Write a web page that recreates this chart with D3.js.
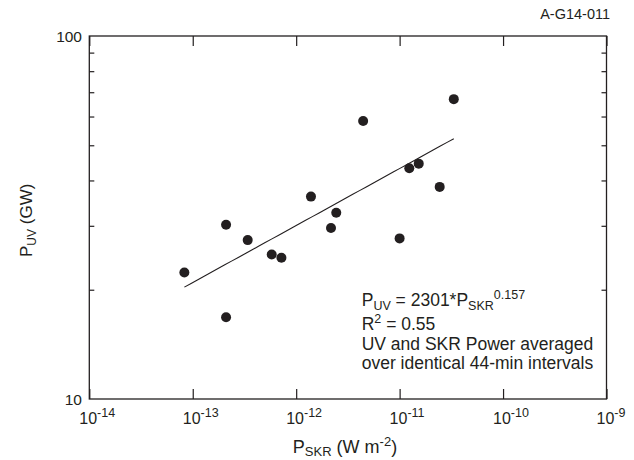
<!DOCTYPE html>
<html>
<head>
<meta charset="utf-8">
<script src="https://cdn.jsdelivr.net/npm/d3@7"></script>
<style>
  body { margin: 0; background: #fff; }
  text { font-family: "Liberation Sans", Arial, sans-serif; fill: #231f20; }
</style>
</head>
<body>
<svg id="chart"></svg>
<script>
// SKR power (W m^-2) and UV power (GW), 44-min averages
const skrPower = [8.3e-14, 2.1e-13, 2.1e-13, 3.4e-13, 5.8e-13, 7.2e-13, 1.39e-12, 2.17e-12,
  2.44e-12, 4.44e-12, 1.0e-11, 1.24e-11, 1.53e-11, 2.44e-11, 3.34e-11];
const uvPower = [22.3, 30.2, 16.8, 27.4, 25.0, 24.5, 36.1, 29.6,
  32.6, 58.3, 27.7, 43.2, 44.5, 38.4, 67.0];

const fitCoef = 2301;
const fitExp = 0.157;
const fitRange = [8.3e-14, 3.34e-11];

const xTickExps = [-14, -13, -12, -11, -10, -9];
const yMinorTicks = [20, 30, 40, 50, 60, 70, 80, 90];
const yLabelTicks = [10, 100];

const width = 634;
const height = 460;
const margin = { top: 36, right: 27.5, bottom: 61, left: 89.3 };
const ink = "#231f20";

let svg = d3.select("#chart").attr("width", width).attr("height", height);

let x = d3.scaleLog().domain([1e-14, 1e-9]).range([margin.left, width - margin.right]);
let y = d3.scaleLog().domain([10, 100]).range([height - margin.bottom, margin.top]);

let xTicks = xTickExps.map((e) => Math.pow(10, e));

// inward ticks on all four sides
let tickAxes = [
  [d3.axisBottom(x).tickValues(xTicks).tickSize(-10), height - margin.bottom, "x"],
  [d3.axisTop(x).tickValues(xTicks).tickSize(-10), margin.top, "x"],
  [d3.axisLeft(y).tickValues(yMinorTicks).tickSize(-5), margin.left, "y"],
  [d3.axisRight(y).tickValues(yMinorTicks).tickSize(-5), width - margin.right, "y"]
];
tickAxes.forEach(([axis, pos, dir]) => {
  let g = svg.append("g")
    .attr("transform", dir === "x" ? "translate(0," + pos + ")" : "translate(" + pos + ",0)")
    .call(axis.tickFormat(""));
  g.select(".domain").remove();
  g.selectAll("line").attr("stroke", ink).attr("stroke-width", 1.2);
});

// frame
svg.append("rect")
  .attr("x", margin.left)
  .attr("y", margin.top)
  .attr("width", width - margin.left - margin.right)
  .attr("height", height - margin.top - margin.bottom)
  .attr("fill", "none")
  .attr("stroke", ink)
  .attr("stroke-width", 1.3);

// x tick labels 10^n
let xLab = svg.append("g").selectAll("text")
  .data(xTickExps)
  .enter()
  .append("text")
  .attr("x", (e) => x(Math.pow(10, e)) - 10)
  .attr("y", 423.7)
  .attr("font-size", 16);
xLab.append("tspan").text("10");
xLab.append("tspan").attr("dy", -6.5).attr("font-size", 12.5).text((e) => "-" + Math.abs(e));

// y tick labels
svg.append("g").selectAll("text")
  .data(yLabelTicks)
  .enter()
  .append("text")
  .attr("x", 82)
  .attr("y", (d) => y(d))
  .attr("dy", "0.36em")
  .attr("text-anchor", "end")
  .attr("font-size", 15.5)
  .text((d) => d);

// fit line
let fitX = d3.range(0, 41).map((i) => fitRange[0] * Math.pow(fitRange[1] / fitRange[0], i / 40));
let line = d3.line()
  .x((d) => x(d))
  .y((d) => y(fitCoef * Math.pow(d, fitExp)));
svg.append("path")
  .datum(fitX)
  .attr("d", line)
  .attr("fill", "none")
  .attr("stroke", ink)
  .attr("stroke-width", 1.1);

// points
svg.append("g").selectAll("circle")
  .data(skrPower)
  .enter()
  .append("circle")
  .attr("cx", (d) => x(d))
  .attr("cy", (d, i) => y(uvPower[i]))
  .attr("r", 5)
  .attr("fill", ink);

// annotation
let ann = svg.append("g").attr("font-size", 17.5);
let a1 = ann.append("text").attr("x", 361.7).attr("y", 306);
a1.append("tspan").text("P");
a1.append("tspan").attr("dy", 4).attr("font-size", 12.5).text("UV");
a1.append("tspan").attr("dy", -4).text(" = 2301*P");
a1.append("tspan").attr("dy", 4).attr("font-size", 12.5).text("SKR");
a1.append("tspan").attr("dy", -11.5).attr("font-size", 12.5).text("0.157");
let a2 = ann.append("text").attr("x", 361.7).attr("y", 329.5);
a2.append("tspan").text("R");
a2.append("tspan").attr("dy", -6.5).attr("font-size", 12.5).text("2");
a2.append("tspan").attr("dy", 6.5).text(" = 0.55");
ann.append("text").attr("x", 361.7).attr("y", 350).text("UV and SKR Power averaged");
ann.append("text").attr("x", 361.7).attr("y", 368.5).text("over identical 44-min intervals");

// x axis title
let xt = svg.append("text")
  .attr("x", 345)
  .attr("y", 452.5)
  .attr("text-anchor", "middle")
  .attr("font-size", 18);
xt.append("tspan").text("P");
xt.append("tspan").attr("dy", 3.5).attr("font-size", 13).text("SKR");
xt.append("tspan").attr("dy", -3.5).text(" (W m");
xt.append("tspan").attr("dy", -7).attr("font-size", 13).text("-2");
xt.append("tspan").attr("dy", 7).text(")");

// y axis title
let yt = svg.append("text")
  .attr("transform", "translate(31.5,220.3) rotate(-90)")
  .attr("text-anchor", "middle")
  .attr("font-size", 17);
yt.append("tspan").text("P");
yt.append("tspan").attr("dy", 4).attr("font-size", 12).text("UV");
yt.append("tspan").attr("dy", -4).text(" (GW)");

// figure id
svg.append("text")
  .attr("x", 610)
  .attr("y", 18.5)
  .attr("text-anchor", "end")
  .attr("font-size", 14.5)
  .text("A-G14-011");
</script>
</body>
</html>
